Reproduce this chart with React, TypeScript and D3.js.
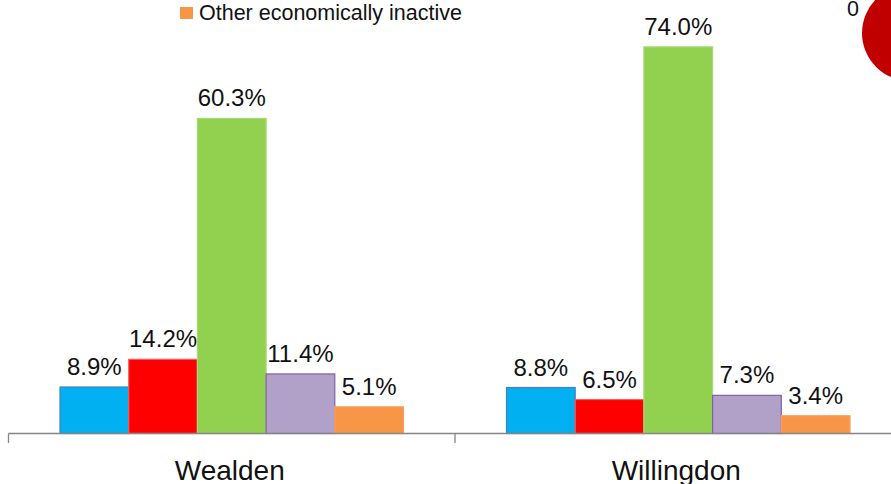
import { useEffect, useRef } from "react";
import * as d3 from "d3";

const areas: string[] = ["Wealden", "Willingdon"];

const seriesNames: string[] = [
  "Looking after home or family",
  "Long-term sick or disabled",
  "Retired",
  "Student",
  "Other economically inactive",
];

const wealdenValues: number[] = [8.9, 14.2, 60.3, 11.4, 5.1];
const willingdonValues: number[] = [8.8, 6.5, 74.0, 7.3, 3.4];

const fills: string[] = ["#00B0F0", "#FF0000", "#92D050", "#B1A0C7", "#F79646"];
const strokes: string[] = ["#4A7EBB", "#F06060", "#A8D878", "#7F62A6", "#F7A060"];

interface Bar {
  area: string;
  series: string;
  value: number;
  i: number;
}

function drawChart(el: SVGSVGElement) {
  const w = 891;
  const h = 484;
  const baseline = 433.5;

  const svg = d3.select(el);
  svg.selectAll("*").remove();
  svg.attr("width", w).attr("height", h);

  svg.append("rect").attr("width", w).attr("height", h).attr("fill", "white");

  const valuesByArea: { [key: string]: number[] } = {
    Wealden: wealdenValues,
    Willingdon: willingdonValues,
  };

  const bars: Bar[] = [];
  areas.forEach((a) => {
    valuesByArea[a].forEach((v, i) => {
      bars.push({ area: a, series: seriesNames[i], value: v, i });
    });
  });

  const xScale = d3.scaleBand<string>().domain(areas).range([8.5, 901.5]);
  const bw = xScale.bandwidth();
  const xInner = d3
    .scaleBand<string>()
    .domain(seriesNames)
    .range([51.5, bw - 51.5]);
  const yScale = d3.scaleLinear().domain([0, 80]).range([baseline, baseline - 80 * 5.225]);

  // bars
  svg
    .append("g")
    .selectAll("rect")
    .data(bars)
    .join("rect")
    .attr("x", (d) => (xScale(d.area) as number) + (xInner(d.series) as number))
    .attr("y", (d) => yScale(d.value))
    .attr("width", xInner.bandwidth())
    .attr("height", (d) => baseline - yScale(d.value))
    .attr("fill", (d) => fills[d.i])
    .attr("stroke", (d) => strokes[d.i])
    .attr("stroke-width", 1.2);

  // value labels
  svg
    .append("g")
    .selectAll("text")
    .data(bars)
    .join("text")
    .attr(
      "x",
      (d) => (xScale(d.area) as number) + (xInner(d.series) as number) + xInner.bandwidth() / 2
    )
    .attr("y", (d) => yScale(d.value) - 12)
    .attr("text-anchor", "middle")
    .attr("font-family", "Liberation Sans, Arial, sans-serif")
    .attr("font-size", 24)
    .attr("fill", "#111")
    .text((d) => d.value.toFixed(1) + "%");

  // axis
  const axis = svg.append("g").attr("stroke", "#868686").attr("stroke-width", 1.3);
  axis
    .append("line")
    .attr("x1", 8.5)
    .attr("x2", w)
    .attr("y1", baseline)
    .attr("y2", baseline);
  axis
    .selectAll("line.tick")
    .data(areas)
    .join("line")
    .attr("class", "tick")
    .attr("x1", (d) => xScale(d) as number)
    .attr("x2", (d) => xScale(d) as number)
    .attr("y1", baseline)
    .attr("y2", baseline + 9.5);

  svg
    .append("g")
    .selectAll("text")
    .data(areas)
    .join("text")
    .attr("x", (d) => (xScale(d) as number) + bw / 2 - 2)
    .attr("y", 480)
    .attr("text-anchor", "middle")
    .attr("font-family", "Liberation Sans, Arial, sans-serif")
    .attr("font-size", 28)
    .attr("fill", "#111")
    .text((d) => d);

  // legend (only last entry visible)
  const legend = svg.append("g").attr("transform", "translate(180,7)");
  legend.append("rect").attr("width", 13).attr("height", 12).attr("fill", fills[4]);
  legend
    .append("text")
    .attr("x", 19)
    .attr("y", 13)
    .attr("font-family", "Liberation Sans, Arial, sans-serif")
    .attr("font-size", 21.5)
    .attr("fill", "#111")
    .text(seriesNames[4]);

  // stray pie remnant at top right
  svg.append("circle").attr("cx", 910).attr("cy", 33).attr("r", 48).attr("fill", "#C00000");
  svg
    .append("text")
    .attr("x", 853)
    .attr("y", 16)
    .attr("text-anchor", "middle")
    .attr("font-family", "Liberation Sans, Arial, sans-serif")
    .attr("font-size", 21.5)
    .attr("fill", "#111")
    .text("0");
}

export default function App() {
  const ref = useRef<SVGSVGElement>(null);

  useEffect(() => {
    if (ref.current) drawChart(ref.current);
  }, []);

  return (
    <div style={{ position: "absolute", left: 0, top: 0 }}>
      <svg ref={ref} style={{ display: "block" }} />
    </div>
  );
}
